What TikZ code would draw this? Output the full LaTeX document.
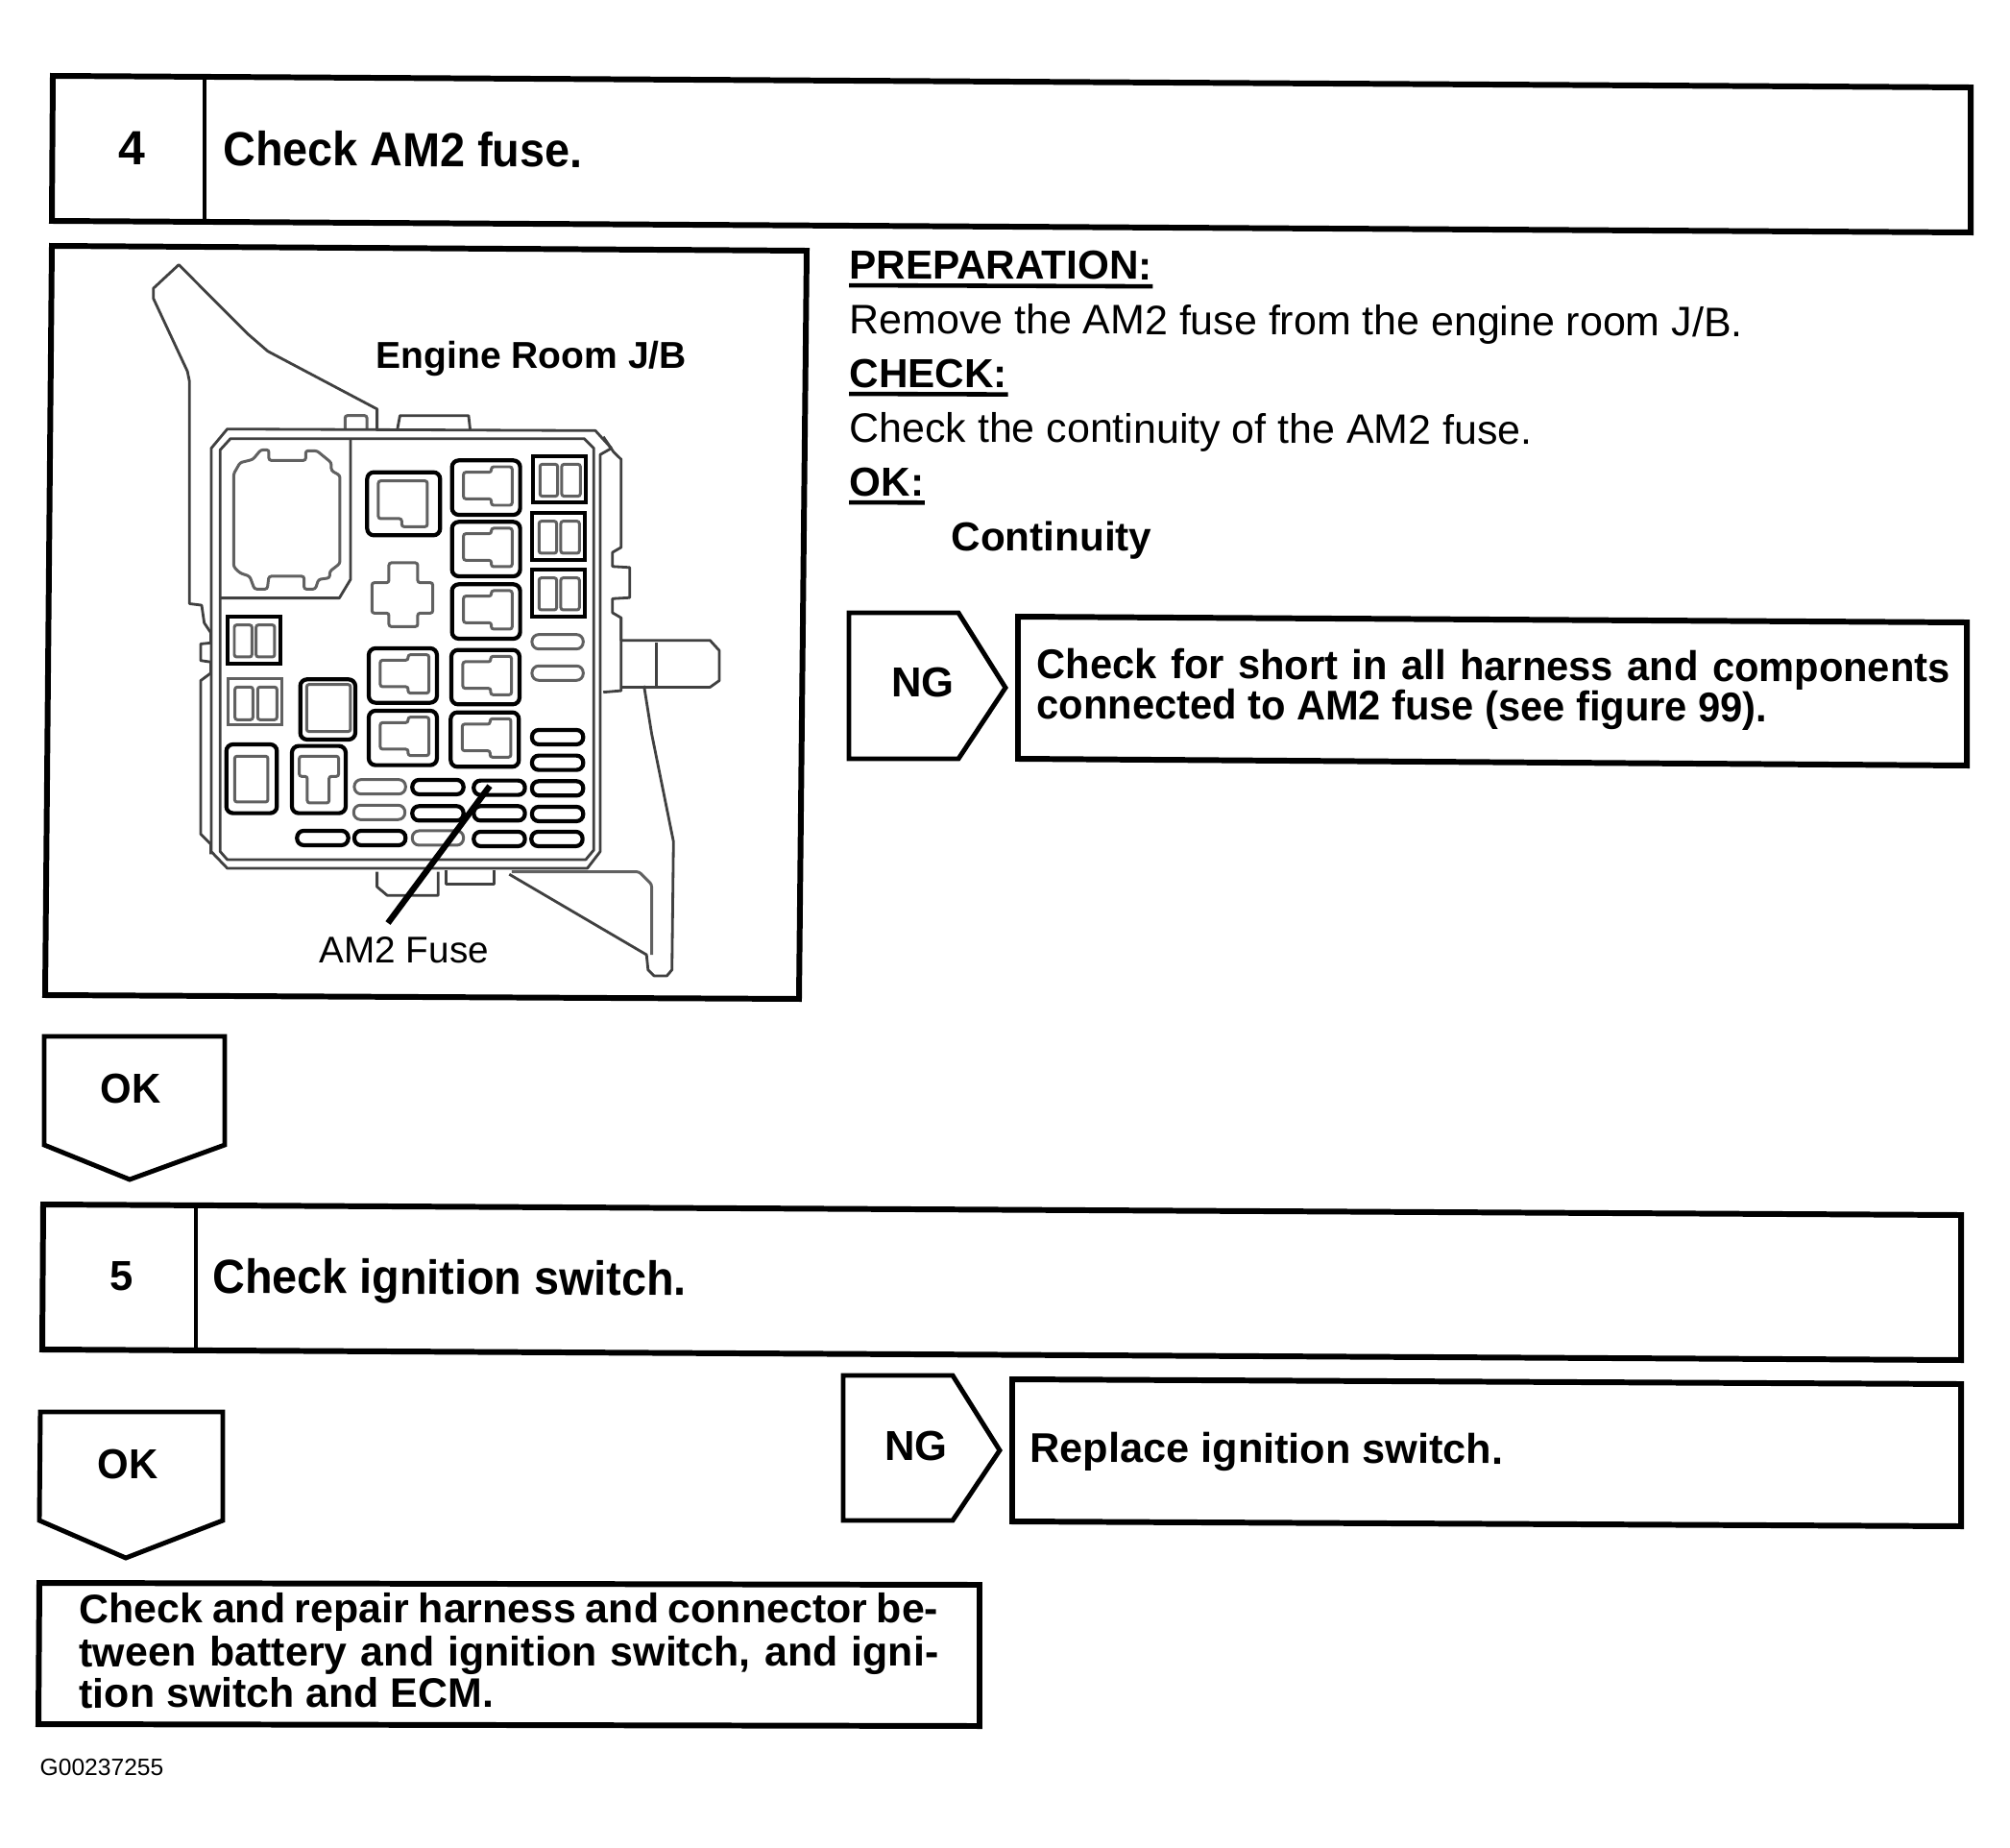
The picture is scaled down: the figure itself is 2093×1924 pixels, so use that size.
\documentclass[tikz,border=0pt]{standalone}
\usepackage{fontspec}
\setmainfont{Liberation Sans}
\newfontface\headface[FakeStretch=0.935]{Liberation Sans Bold}
\newfontface\shortface[FakeStretch=0.962]{Liberation Sans Bold}
\usetikzlibrary{positioning,arrows.meta}
\tikzset{
    frameline/.style={
        draw,
        line width=1.7pt,
        line join=miter
    },
    thinframe/.style={
        draw,
        line width=1.4pt
    },
    headtext/.style={
        anchor=base west,
        inner sep=0pt,
        rotate=-0.34,
        font=\fontsize{14.2}{17}\selectfont\headface
    },
    numtext/.style={
        anchor=center,
        inner sep=0pt,
        font=\fontsize{12.4}{15}\selectfont\bfseries
    },
    oktext/.style={
        anchor=center,
        inner sep=0pt,
        font=\fontsize{12.4}{15}\selectfont\shortface
    },
    labeltext/.style={
        anchor=base west,
        inner sep=0pt,
        rotate=-0.2,
        font=\fontsize{12}{14}\selectfont\bfseries
    },
    bodytext/.style={
        anchor=base west,
        inner sep=0pt,
        rotate=-0.2,
        font=\fontsize{12.2}{14}\selectfont
    },
    boxtext/.style={
        anchor=base west,
        inner sep=0pt,
        rotate=-0.25,
        font=\fontsize{12.3}{15}\selectfont\bfseries
    },
    shorttext/.style={
        anchor=base west,
        inner sep=0pt,
        rotate=-0.25,
        font=\fontsize{12.3}{15}\selectfont\shortface
    },
    repairtext/.style={
        anchor=base west,
        inner sep=0pt,
        rotate=0.05,
        font=\fontsize{12.2}{15}\selectfont\bfseries
    },
    underbar/.style={
        draw,
        line width=1.3pt
    },
    heavy/.style={
        draw,
        line width=1.2pt,
        rounded corners=2pt
    },
    halftone/.style={
        draw=black!62,
        line width=0.85pt,
        rounded corners=0.7pt
    },
    outline/.style={
        draw=black!75,
        line width=0.8pt,
        line join=round
    },
    leader/.style={
        draw,
        line width=1.8pt
    }
}

\begin{document}
\begin{tikzpicture}[x=0.01cm,y=-0.01cm]
\useasboundingbox (0,0) rectangle (2093,1924);

% STEP 4
\draw[frameline] (55,79) -- (2052,91) -- (2052,242) -- (54,230) -- cycle;
\draw[line width=1.4pt] (213,80) -- (213,231);
\node[numtext, font=\fontsize{14.2}{17}\selectfont\bfseries] (num4) at (137,154) {4};
\node[headtext] (head4) at (232,172) {Check AM2 fuse.};

% FIGURE FRAME
\draw[frameline] (54,256) -- (840,261) -- (832,1040) -- (47,1036) -- cycle;
\node[anchor=base west, inner sep=0pt, font=\fontsize{11.1}{13}\selectfont\bfseries] (jblabel) at (391,383)
{Engine Room J/B};
\node[anchor=base west, inner sep=0pt, font=\fontsize{11}{13}\selectfont] (fuselabel) at (332,1002)
{AM2 Fuse};

% JUNCTION BOX OUTSIDE
\begin{scope}[shift={(30,240)},xscale=0.5294,yscale=0.5236]
\draw[outline] (685,395) -- (685,355) -- (470,240) -- (430,205) -- (295,68) -- (245,115)
    -- (245,135) -- (312,280) -- (316,300) -- (316,742) -- (340,745) -- (345,780)
    -- (358,800) -- (358,820) -- (338,822) -- (338,855) -- (358,858) -- (358,880)
    -- (338,895) -- (338,1200) -- (358,1220) -- (358,1240);
\draw[halftone] (622,395) -- (622,368) -- (665,368) -- (665,395);
\draw[outline] (725,395) -- (730,368) -- (865,368) -- (868,395);
\draw[outline] (1130,410) -- (1150,440) -- (1165,455) -- (1165,630) -- (1148,640) -- (1148,668)
    -- (1182,670) -- (1182,730) -- (1148,732) -- (1148,760) -- (1165,770) -- (1165,815)
    -- (1340,815) -- (1358,835) -- (1358,895) -- (1340,908) -- (1165,908);
\draw[outline] (1165,770) -- (1165,915) -- (1130,918);
\draw[outline] (1235,820) -- (1235,905);
\draw[outline] (1210,905) -- (1225,1000) -- (1268,1215) -- (1265,1470) -- (1255,1482)
    -- (1230,1482) -- (1218,1470) -- (1215,1440) -- (945,1280);
\draw[halftone] (950,1275) -- (1200,1275) -- (1225,1300) -- (1225,1440);
\draw[outline] (685,1275) -- (685,1305) -- (705,1322) -- (805,1322) -- (805,1275);
\draw[outline] (820,1272) -- (820,1300) -- (915,1300) -- (915,1272);
\end{scope}

% JUNCTION BOX INSIDE
\begin{scope}[shift={(200,440)},scale=0.3333]
\draw[outline] (60,80) -- (110,20) -- (1260,25) -- (1310,80) -- (1275,100) -- (1275,1340)
    -- (1235,1392) -- (110,1392) -- (60,1340) -- cycle;
\draw[outline] (88,85) -- (120,50) -- (1225,50) -- (1255,80) -- (1255,1335) -- (1230,1365)
    -- (110,1365) -- (88,1340) -- cycle;
\draw[outline] (495,50) -- (495,490) -- (460,548) -- (88,548);
\draw[halftone] (130,160) -- (150,125) -- (190,115) -- (215,85) -- (240,85) -- (240,118)
    -- (355,118) -- (355,88) -- (390,88) -- (435,125) -- (435,150) -- (462,165) -- (462,440)
    -- (430,465) -- (430,485) -- (395,490) -- (385,520) -- (350,520) -- (350,480) -- (240,480)
    -- (235,520) -- (195,520) -- (180,480) -- (150,470) -- (130,450) -- cycle;
\draw[halftone] (562,500) -- (615,500) -- (615,438) -- (705,438) -- (705,500) -- (752,500)
    -- (752,595) -- (705,595) -- (705,637) -- (615,637) -- (615,595) -- (562,595) -- cycle;

% relays with a notch
\foreach \bx/\by in {812/118,812/310,812/505,810/710,808/905,552/705,552/900}{
    \draw[heavy] (\bx,\by) rectangle ++(213,170);
    \draw[halftone] (\bx+36,\by+37) -- (\bx+123,\by+37) -- (\bx+123,\by+20) -- (\bx+188,\by+20)
        -- (\bx+188,\by+140) -- (\bx+123,\by+140) -- (\bx+123,\by+120) -- (\bx+36,\by+120) -- cycle;
}
\draw[heavy] (547,155) rectangle (775,352);
\draw[halftone] (582,182) -- (735,182) -- (735,325) -- (655,325) -- (655,300) -- (582,300) -- cycle;

% double fuses
\foreach \bx/\by in {1065/105,1062/283,1062/460,110/607}{
    \draw[heavy, rounded corners=0pt] (\bx,\by) rectangle ++(165,145);
    \draw[halftone] (\bx+22,\by+25) rectangle ++(55,100);
    \draw[halftone] (\bx+90,\by+25) rectangle ++(58,100);
}
\draw[halftone, rounded corners=0pt] (112,800) rectangle (282,945);
\draw[halftone] (134,826) rectangle (190,928);
\draw[halftone] (205,826) rectangle (265,928);

% square sockets
\draw[heavy] (338,802) rectangle (510,990);
\draw[halftone] (358,818) rectangle (495,965);
\draw[heavy] (107,1005) rectangle (265,1220);
\draw[halftone] (133,1042) rectangle (237,1185);
\draw[heavy] (312,1010) rectangle (480,1220);
\draw[halftone] (335,1042) -- (458,1042) -- (458,1105) -- (428,1105) -- (428,1188) -- (360,1188)
    -- (360,1105) -- (335,1105) -- cycle;

% small fuses
\foreach \bx/\by in {1062/662,1062/760,507/1115,505/1195,688/1275}{
    \draw[halftone, rounded corners=2pt] (\bx,\by) rectangle ++(160,45);
}
\foreach \bx/\by in {1062/960,1062/1040,1062/1120,688/1116,880/1118,688/1198,880/1198,1062/1200,328/1275,507/1275,880/1278,1060/1278}{
    \draw[heavy] (\bx,\by) rectangle ++(160,45);
}
\coordinate (fusetip) at (930,1135);
\end{scope}

% FUSE POINTER
\coordinate (pointerfoot) at (404,961);
\draw[leader] (pointerfoot) -- (fusetip);

% RIGHT COLUMN TEXT
\node[labeltext] (prep) at (884,290) {PREPARATION:};
\node[bodytext] (remove) at (884,347) {Remove the AM2 fuse from the engine room J/B.};
\node[labeltext] (check) at (884,403) {CHECK:};
\node[bodytext] (contin) at (884,460) {Check the continuity of the AM2 fuse.};
\node[labeltext] (okhead) at (884,516) {OK:};
\node[labeltext] (result) at (990,573) {Continuity};
\draw[underbar] ([yshift=-2pt]prep.base west) -- ([yshift=-2pt]prep.base east);
\draw[underbar] ([yshift=-2pt]check.base west) -- ([yshift=-2pt]check.base east);
\draw[underbar] ([yshift=-2pt]okhead.base west) -- ([yshift=-2pt]okhead.base east);

% NG BRANCH OF STEP 4
\draw[thinframe] (884,638) -- (998,638) -- (1047,716) -- (998,790) -- (884,790) -- cycle;
\node[numtext] (ng4) at (961,710) {NG};
\draw[frameline] (1060,642) -- (2048,648) -- (2048,797) -- (1060,790) -- cycle;
\node[shorttext] (short1) at (1079,706) {\makebox[270.4pt][s]{Check for short in all harness and components}};
\node[shorttext] (short2) at (1079,748) {connected to AM2 fuse (see figure 99).};

% OK ARROW TO STEP 5
\draw[thinframe] (46,1079) -- (234,1079) -- (234,1192) -- (135,1228) -- (46,1192) -- cycle;
\node[oktext] (ok4) at (136,1133) {OK};

% STEP 5
\draw[frameline] (45,1254) -- (2042,1265) -- (2042,1416) -- (44,1405) -- cycle;
\draw[line width=1.4pt] (204,1256) -- (204,1405);
\node[numtext] (num5) at (127,1329) {5};
\node[headtext] (head5) at (221,1346) {Check ignition switch.};

% NG BRANCH OF STEP 5
\draw[thinframe] (878,1432) -- (992,1432) -- (1041,1510) -- (992,1583) -- (878,1583) -- cycle;
\node[numtext] (ng5) at (954,1505) {NG};
\draw[frameline] (1054,1436) -- (2042,1441) -- (2042,1589) -- (1054,1584) -- cycle;
\node[boxtext] (replace) at (1072,1522) {Replace ignition switch.};

% OK BRANCH OF STEP 5
\draw[thinframe] (42,1470) -- (232,1470) -- (232,1583) -- (131,1622) -- (41,1583) -- cycle;
\node[oktext] (ok5) at (133,1524) {OK};
\draw[frameline] (41,1648) -- (1020,1650) -- (1020,1797) -- (40,1795) -- cycle;
\node[repairtext] (repair1) at (82,1690) {\makebox[254.4pt][s]{Check and repair harness and connector be-}};
\node[repairtext] (repair2) at (82,1735) {\makebox[254.4pt][s]{tween battery and ignition switch, and igni-}};
\node[repairtext] (repair3) at (82,1778) {tion switch and ECM.};

% FIGURE NUMBER
\node[anchor=base west, inner sep=0pt, font=\fontsize{7}{9}\selectfont] (figno) at (41,1848) {G00237255};

\end{tikzpicture}
\end{document}
